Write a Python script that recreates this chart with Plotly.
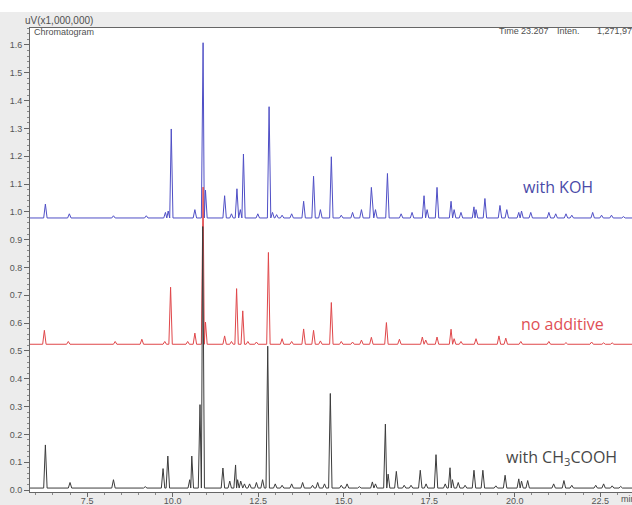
import plotly.graph_objects as go

# Retention times (min) and peak heights above baseline (uV x 1,000,000)
koh_base = 0.978
koh_rt = [6.28, 6.98, 8.27, 9.23, 9.79, 9.87, 9.96, 10.65, 10.89, 10.96, 11.52, 11.72, 11.88,
          11.98, 12.07, 12.49, 12.82, 12.92, 13.04, 13.2, 13.48, 13.83, 14.12, 14.32, 14.64,
          14.93, 15.26, 15.52, 15.81, 15.93, 16.28, 16.68, 17.0, 17.35, 17.44, 17.73, 18.14,
          18.23, 18.43, 18.81, 18.87, 19.13, 19.57, 19.77, 20.12, 20.2, 20.47, 21.0, 21.2,
          21.5, 21.67, 22.28, 22.54, 22.83, 23.18]
koh_h = [0.05, 0.015, 0.008, 0.008, 0.02, 0.025, 0.32, 0.03, 0.63, 0.1, 0.08, 0.015, 0.105,
         0.03, 0.23, 0.015, 0.40, 0.02, 0.012, 0.01, 0.015, 0.06, 0.15, 0.03, 0.22,
         0.01, 0.02, 0.03, 0.11, 0.03, 0.16, 0.015, 0.02, 0.08, 0.03, 0.11, 0.06,
         0.03, 0.02, 0.04, 0.03, 0.07, 0.045, 0.03, 0.02, 0.025, 0.02, 0.02, 0.015,
         0.015, 0.01, 0.02, 0.01, 0.01, 0.005]

none_base = 0.524
none_rt = [6.25, 6.95, 8.32, 9.1, 9.77, 9.94, 10.44, 10.65, 10.89, 10.96, 11.52, 11.72, 11.87,
           12.05, 12.2, 12.45, 12.8, 13.2, 13.48, 13.83, 14.12, 14.32, 14.64, 14.93, 15.26,
           15.52, 15.81, 16.25, 16.63, 17.3, 17.4, 17.73, 18.14, 18.23, 18.43, 18.87, 19.54,
           19.74, 20.18, 21.0, 21.5, 22.25, 22.6, 22.85]
none_h = [0.05, 0.01, 0.01, 0.018, 0.01, 0.205, 0.01, 0.04, 0.565, 0.08, 0.03, 0.01, 0.2,
          0.12, 0.01, 0.008, 0.33, 0.02, 0.01, 0.055, 0.05, 0.012, 0.15, 0.01, 0.008,
          0.015, 0.025, 0.078, 0.018, 0.026, 0.015, 0.026, 0.054, 0.02, 0.01, 0.02, 0.03,
          0.022, 0.01, 0.01, 0.006, 0.008, 0.005, 0.005]

acid_base = 0.007
acid_rt = [6.28, 7.0, 8.27, 9.2, 9.72, 9.86, 10.5, 10.56, 10.8, 10.88, 11.47, 11.67, 11.84,
           11.9, 11.99, 12.1, 12.25, 12.45, 12.63, 12.78, 13.0, 13.2, 13.48, 13.8, 14.09,
           14.24, 14.44, 14.61, 14.93, 15.1, 15.46, 15.84, 15.93, 16.22, 16.3, 16.54, 16.77,
           16.97, 17.24, 17.41, 17.7, 17.97, 18.11, 18.18, 18.35, 18.55, 18.81, 19.07, 19.45,
           19.72, 20.12, 20.2, 20.38, 21.14, 21.44, 21.67, 22.37, 22.6, 22.85, 23.1]
acid_h = [0.155, 0.02, 0.03, 0.005, 0.07, 0.115, 0.03, 0.115, 0.3, 0.94, 0.072, 0.025, 0.083,
          0.03, 0.025, 0.015, 0.015, 0.02, 0.03, 0.51, 0.015, 0.01, 0.015, 0.02, 0.01,
          0.02, 0.015, 0.34, 0.01, 0.015, 0.005, 0.022, 0.015, 0.23, 0.05, 0.06, 0.01,
          0.01, 0.064, 0.015, 0.12, 0.015, 0.073, 0.03, 0.02, 0.01, 0.064, 0.064, 0.008,
          0.046, 0.033, 0.025, 0.027, 0.015, 0.027, 0.01, 0.01, 0.015, 0.008, 0.006]

x_ticks = [7.5, 10.0, 12.5, 15.0, 17.5, 20.0, 22.5]
x_range = [5.83, 23.43]
y_range = [-0.0072, 1.661]


def trace_points(rt, h, base, w=0.05):
    """Polyline for a chromatogram: baseline with a narrow spike per peak."""
    xs, ys = [x_range[0]], [base]
    n = len(rt)
    for i, (t, a) in enumerate(zip(rt, h)):
        wl = w if i == 0 else min(w, (t - rt[i - 1]) / 2)
        wr = w if i == n - 1 else min(w, (rt[i + 1] - t) / 2)
        xs += [t - wl, t, t + wr]
        ys += [base, base + a, base]
    xs.append(x_range[1])
    ys.append(base)
    return xs, ys


fig = go.Figure()
for rt, h, base, color in [
    (koh_rt, koh_h, koh_base, "#4f4fc6"),
    (none_rt, none_h, none_base, "#e0474a"),
    (acid_rt, acid_h, acid_base, "#3c3c3c"),
]:
    xs, ys = trace_points(rt, h, base)
    fig.add_trace(go.Scatter(x=xs, y=ys, mode="lines",
                             line=dict(color=color, width=1), hoverinfo="skip",
                             showlegend=False))

L, R, T, B, W, H = 30, 0, 28, 13, 632, 505
PW, PH = W - L - R, H - T - B


def px(xp):
    return (xp - L) / PW


def py(yp):
    return (H - B - yp) / PH


tick_font = dict(family="Liberation Sans, Arial, sans-serif", size=9, color="#555555")
label_font = "Open Sans, sans-serif"
hdr_font = dict(family="Liberation Sans, Arial", size=9, color="#505050")

annotations = [
    dict(text="uV(x1,000,000)", x=px(23), y=py(20), xanchor="left", yanchor="middle",
         font=dict(family="Liberation Sans, Arial", size=10, color="#505050")),
    dict(text="Chromatogram", x=px(32), y=py(32), xanchor="left", yanchor="middle",
         font=hdr_font),
    dict(text="Time", x=px(497), y=py(31), xanchor="left", yanchor="middle", font=hdr_font),
    dict(text="23.207", x=px(519), y=py(31), xanchor="left", yanchor="middle", font=hdr_font),
    dict(text="Inten.", x=px(555), y=py(31), xanchor="left", yanchor="middle", font=hdr_font),
    dict(text="1,271,978", x=px(595), y=py(31), xanchor="left", yanchor="middle",
         font=hdr_font),
    dict(text="min", x=px(619), y=py(499), xanchor="left", yanchor="middle", font=hdr_font),
    dict(text="with KOH", x=px(521), y=py(187), xanchor="left", yanchor="middle",
         font=dict(family=label_font, size=16, color="#4a4aa8")),
    dict(text="no additive", x=px(519), y=py(324), xanchor="left", yanchor="middle",
         font=dict(family=label_font, size=16, color="#e05055")),
    dict(text="with CH<sub>3</sub>COOH", x=px(504), y=py(457), xanchor="left",
         yanchor="middle", font=dict(family=label_font, size=16, color="#474747")),
]
for a in annotations:
    a.update(xref="paper", yref="paper", showarrow=False)

shapes = [
    # white strip above the header band
    dict(type="rect", xref="paper", yref="paper", x0=px(0), x1=1.0, y0=py(12), y1=py(-2),
         fillcolor="white", line=dict(width=0), layer="below"),
]

fig.update_layout(
    width=W, height=H, autosize=False,
    margin=dict(l=L, r=R, t=T, b=B, pad=0),
    paper_bgcolor="#ececec", plot_bgcolor="white",
    annotations=annotations, shapes=shapes,
    xaxis=dict(range=x_range, tickvals=x_ticks, ticktext=[f"{v:.1f}" for v in x_ticks],
               ticks="outside", ticklen=4, tickcolor="#666666", tickfont=tick_font,
               ticklabelstandoff=-4,
               showline=True, linecolor="#666666", linewidth=1, mirror=True,
               showgrid=False, zeroline=False, automargin=False,
               minor=dict(dtick=0.5, tick0=0, ticks="outside", ticklen=2,
                          tickcolor="#888888", showgrid=False)),
    yaxis=dict(range=y_range, dtick=0.1, tick0=0, tickformat=".1f",
               ticks="outside", ticklen=5, tickcolor="#666666", tickfont=tick_font,
               showline=True, linecolor="#666666", linewidth=1,
               showgrid=False, zeroline=False, automargin=False,
               minor=dict(dtick=0.02, tick0=0, ticks="outside", ticklen=2,
                          tickcolor="#888888", showgrid=False)),
)

fig.write_html("out.html")
